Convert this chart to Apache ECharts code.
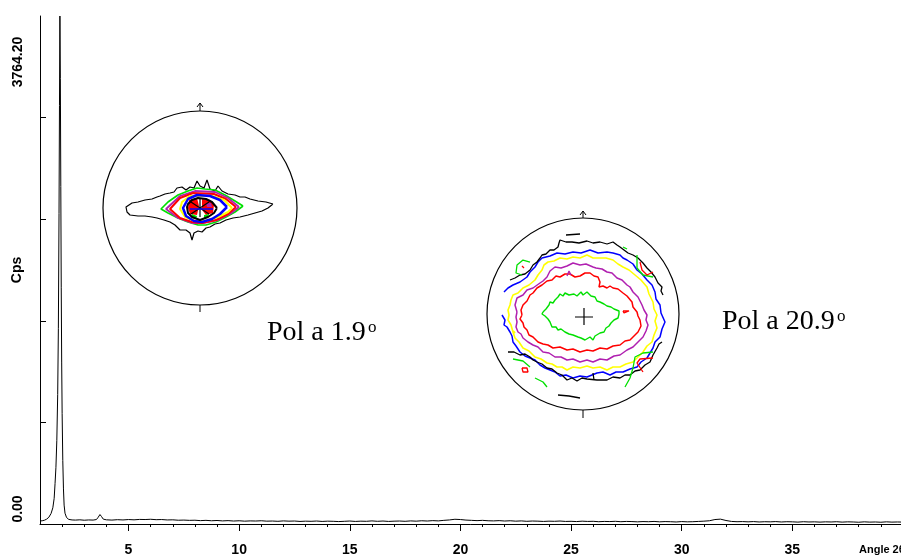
<!DOCTYPE html>
<html><head><meta charset="utf-8">
<script src="https://cdn.jsdelivr.net/npm/echarts@6/dist/echarts.min.js"></script>
<style>html,body{margin:0;padding:0;background:#fff}#c{width:901px;height:557px}</style>
</head><body><div id="c"></div><script>
// ---------- XRD scan (angle 2theta, cps) ----------
const xrdScan = [
[1.00,22],[1.10,24],[1.20,28],[1.30,36],[1.40,50],[1.50,78],[1.58,120],[1.64,190],[1.68,300],[1.72,420],[1.76,620],[1.80,960],[1.83,1450],[1.86,2300],[1.88,3100],[1.90,3764.2],[1.92,3300],[1.94,2500],[1.96,1750],[1.98,1200],[2.00,820],[2.03,470],[2.06,260],[2.09,140],[2.13,80],[2.20,48],[2.30,34],[2.45,30],[2.60,29],[2.80,31],[3.00,28],[3.20,30],[3.40,29],[3.55,33],[3.63,50],[3.71,70],[3.78,55],[3.86,36],[3.95,29],
[4.00,31],[4.25,29],[4.50,32],[4.75,30],[5.00,33],[5.25,31],[5.50,34],[5.75,33],[6.00,35],[6.25,32],[6.50,33],[6.75,30],[7.00,31],[7.25,28],[7.50,29],[7.75,27],[8.00,28],[8.25,25],[8.50,27],[8.75,24],[9.00,26],[9.25,23],[9.50,25],[9.75,22],[10.00,24],[10.25,21],[10.50,23],[10.75,22],[11.00,24],[11.25,21],[11.50,22],[11.75,20],[12.00,23],[12.25,21],[12.50,22],[12.75,19],[13.00,21],[13.25,20],[13.50,22],[13.75,19],[14.00,21],[14.25,20],[14.50,18],[14.75,20],[15.00,22],[15.25,19],[15.50,21],[15.75,20],[16.00,23],[16.25,20],[16.50,22],[16.75,19],[17.00,21],[17.25,22],[17.50,20],[17.75,23],[18.00,21],[18.25,24],[18.50,22],[18.75,25],[19.00,23],[19.25,27],[19.50,30],[19.75,35],[20.00,33],[20.25,29],[20.50,27],[20.75,25],[21.00,27],[21.25,24],[21.50,23],[21.75,25],[22.00,22],[22.25,24],[22.50,21],[22.75,23],[23.00,20],[23.25,22],[23.50,21],[23.75,19],[24.00,21],[24.25,20],[24.50,22],[24.75,19],[25.00,20],[25.25,18],[25.50,21],[25.75,19],[26.00,20],[26.25,17],[26.50,19],[26.75,18],[27.00,20],[27.25,17],[27.50,19],[27.75,18],[28.00,16],[28.25,18],[28.50,17],[28.75,19],[29.00,16],[29.25,18],[29.50,17],[29.75,15],[30.00,18],[30.25,16],[30.50,17],[30.75,19],[31.00,21],[31.25,24],[31.50,33],[31.75,36],[32.00,26],[32.25,19],[32.50,17],[32.75,18],[33.00,16],[33.25,18],[33.50,15],[33.75,17],[34.00,16],[34.25,18],[34.50,15],[34.75,17],[35.00,16],[35.25,14],[35.50,17],[35.75,15],[36.00,16],[36.25,14],[36.50,16],[36.75,15],[37.00,17],[37.25,14],[37.50,16],[37.75,15],[38.00,13],[38.25,16],[38.50,14],[38.75,15],[39.00,13],[39.25,16],[39.50,14],[39.75,15],[40.00,14]
];
const xMin = 1, xMax = 40;
const yMax = 3764.20;
const xMajorTicks = [5,10,15,20,25,30,35];
const xMinorTicks = [2,3,4,6,7,8,9,11,12,13,14,16,17,18,19,21,22,23,24,26,27,28,29,31,32,33,34,36,37,38,39];
const yTickValues = [752.84,1505.68,2258.52,3011.36];
const yTickLabels = ['0.00','3764.20'];
const xAxisTitle = 'Angle 2θ';
const yAxisTitle = 'Cps';
const poleLabels = ['Pol a 1.9','Pol a 20.9'];

// ---------- Pole figure 1 (2θ = 1.9°), offsets from centre, in px of radius 97 ----------
const p1Black = [[73,4],[66,6],[58,7],[50,9],[45,11],[40,11],[35,13],[28,14],[22,17],[18,22],[15,17],[10,19],[7,28],[4,20],[0,22],[-3,27],[-6,20],[-10,21],[-14,18],[-18,21],[-23,20],[-26,16],[-30,15],[-35,14],[-40,12],[-43,11],[-48,9],[-55,8],[-62,6],[-68,5],[-74,1],[-73,-4],[-70,-7],[-62,-8],[-55,-8],[-48,-9],[-43,-10],[-36,-12],[-30,-14],[-25,-17],[-20,-22],[-14,-22],[-10,-25],[-8,-32],[-6,-25],[-2,-23],[2,-24],[6,-20],[10,-19],[15,-16],[20,-15],[26,-12],[33,-10],[40,-9],[48,-7],[55,-5],[62,-3],[68,0]];
const p1Green = [[43,2],[35,7],[25,13],[15,18],[5,19],[-3,20],[-12,17],[-22,13],[-32,6],[-39,-1],[-32,-5],[-22,-10],[-12,-14],[-2,-17],[6,-17],[16,-14],[26,-9],[35,-4]];
const p1Magenta = [[39,1],[28,10],[15,16],[-5,17],[-20,12],[-34,-1],[-22,-10],[-8,-15],[3,-15],[18,-12],[30,-6]];
const p1Red = [[36,1],[26,9],[14,14],[-7,15],[-20,10],[-30,-1],[-20,-10],[-8,-14],[2,-15],[16,-12],[28,-6]];
const p1Yellow = [[32,0],[24,8],[12,12],[-10,12],[-18,6],[-20,-1],[-15,-9],[-5,-13],[5,-13],[18,-9],[28,-4]];
const p1Blue = [[27,1],[20,8],[10,12],[-3,13],[-12,9],[-17,0],[-14,-8],[-6,-13],[2,-14],[12,-11],[20,-6]];
const p1Inner = [[17,0],[12,6],[6,9],[-2,10],[-8,8],[-12,4],[-13,1],[-12,-5],[-8,-9],[0,-12],[8,-9],[14,-5]];
const p1RedFillL = [[-11,8],[-3,10],[-1,2],[-3,-7],[-10,-6],[-12,0]];
const p1RedFillR = [[2,9],[10,8],[14,3],[13,-5],[6,-7],[2,-2]];
const p1GreenFillA = [[-8,-6],[-3,-8],[-4,-11],[-8,-10]];
const p1GreenFillB = [[4,-7],[9,-6],[8,-10],[4,-10]];
const p1MagFill = [[6,5],[11,5],[12,1],[7,1]];
const p1CrossA = [[-9,6],[9,-6]];
const p1CrossB = [[-9,-6],[9,6]];
const p1CrossC = [[0,9],[0,-9]];
const p1BlueBar = [[-10,-1],[13,-1]];

// ---------- Pole figure 2 (2θ = 20.9°), offsets from centre, in px of radius 96 ----------
const p2Green = [[-40,2],[-37,5],[-36,7],[-34,9],[-33,12],[-30,11],[-28,14],[-27,16],[-25,17],[-23,20],[-20,18],[-18,21],[-16,22],[-14,19],[-12,19],[-9,20],[-6,18],[-4,20],[-2,22],[0,19],[2,19],[4,22],[6,21],[8,18],[10,19],[12,17],[13,16],[14,13],[15,14],[17,12],[19,13],[21,10],[22,11],[24,8],[26,10],[28,7],[29,6],[31,5],[33,4],[36,3],[35,2],[36,0],[34,-2],[35,-4],[33,-4],[31,-6],[29,-8],[28,-9],[27,-10],[26,-12],[25,-13],[23,-14],[22,-16],[21,-18],[20,-19],[17,-19],[15,-21],[12,-22],[10,-26],[7,-23],[5,-24],[2,-26],[0,-27],[-2,-24],[-5,-23],[-7,-24],[-10,-21],[-12,-22],[-14,-20],[-16,-19],[-18,-18],[-20,-19],[-22,-15],[-24,-17],[-25,-16],[-27,-13],[-29,-12],[-31,-13],[-33,-11],[-33,-8],[-34,-7],[-35,-5],[-36,-6],[-37,-3],[-38,-2],[-41,0]];
const p2Red = [[-61,-1],[-62,4],[-60,9],[-56,13],[-53,19],[-50,21],[-46,26],[-44,26],[-41,29],[-36,33],[-31,34],[-27,38],[-23,37],[-18,40],[-13,40],[-8,37],[-3,38],[2,41],[7,41],[11,38],[15,37],[17,32],[16,27],[20,28],[24,26],[27,28],[30,26],[35,25],[40,21],[44,18],[49,12],[50,7],[54,2],[55,-2],[57,-6],[58,-12],[55,-18],[52,-21],[47,-26],[42,-27],[37,-31],[30,-32],[24,-35],[17,-34],[10,-37],[4,-36],[-3,-38],[-10,-35],[-16,-36],[-23,-33],[-30,-34],[-35,-31],[-40,-30],[-45,-28],[-50,-23],[-54,-21],[-56,-16],[-59,-13],[-60,-9],[-63,-5]];
const p2Magenta = [[-66,2],[-68,9],[-66,16],[-60,19],[-56,24],[-50,26],[-43,31],[-40,33],[-36,37],[-33,43],[-28,47],[-22,46],[-16,48],[-10,51],[-3,49],[3,50],[10,47],[13,46],[15,44],[19,45],[24,42],[29,41],[34,36],[39,34],[44,29],[47,27],[50,22],[55,17],[59,9],[61,4],[64,-1],[63,-6],[65,-11],[63,-17],[60,-23],[56,-27],[50,-33],[44,-36],[37,-41],[31,-42],[24,-46],[17,-45],[10,-48],[4,-46],[-3,-48],[-10,-45],[-16,-46],[-22,-43],[-28,-43],[-34,-39],[-40,-38],[-45,-33],[-50,-31],[-55,-28],[-60,-24],[-62,-20],[-65,-18],[-67,-13],[-66,-8],[-67,-3]];
const p2Yellow = [[-73,9],[-72,14],[-70,19],[-65,21],[-60,26],[-54,29],[-48,34],[-45,39],[-41,44],[-39,49],[-35,52],[-29,53],[-23,56],[-16,55],[-10,57],[-3,56],[4,59],[10,56],[17,56],[23,56],[30,54],[35,50],[40,47],[46,44],[52,39],[58,34],[64,27],[66,20],[70,12],[71,5],[74,-1],[72,-7],[74,-14],[71,-21],[69,-28],[64,-32],[60,-38],[55,-43],[50,-48],[43,-50],[37,-53],[30,-53],[24,-56],[17,-53],[10,-54],[4,-52],[-3,-54],[-10,-53],[-16,-56],[-21,-53],[-26,-53],[-31,-50],[-36,-49],[-42,-45],[-48,-43],[-54,-37],[-60,-34],[-64,-28],[-68,-24],[-70,-18],[-72,-11],[-75,-6],[-74,-1],[-75,4]];
const p2Blue = [[-79,22],[-75,26],[-70,29],[-63,32],[-56,37],[-53,42],[-48,47],[-45,52],[-41,56],[-33,58],[-26,61],[-18,60],[-10,62],[-2,61],[7,64],[15,61],[24,62],[30,61],[37,59],[40,56],[44,54],[50,50],[54,44],[59,40],[64,34],[69,29],[72,22],[73,15],[77,9],[78,1],[82,-8],[79,-15],[77,-23],[72,-28],[70,-34],[67,-39],[64,-44],[58,-48],[54,-53],[47,-55],[40,-58],[33,-58],[27,-61],[20,-58],[14,-59],[9,-61],[4,-63],[-3,-62],[-10,-64],[-17,-61],[-23,-62],[-28,-58],[-33,-56],[-38,-54],[-43,-51],[-48,-46],[-53,-44],[-58,-42],[-63,-38],[-67,-32],[-70,-28],[-71,-22],[-73,-18],[-76,-13],[-79,-11],[-78,-6],[-81,-1]];
const p2BlackTop = [[-73,34],[-68,36],[-63,39],[-58,40],[-53,44],[-50,49],[-46,52],[-43,56],[-41,59],[-37,60],[-33,64],[-29,64],[-25,67],[-24,71],[-23,74],[-17,72],[-11,72],[-4,71],[4,73],[10,71],[17,72],[24,70],[30,72],[34,69],[37,67],[41,64],[45,61],[50,59],[55,56],[60,51],[64,46],[68,42],[72,37],[75,31],[79,27],[78,23],[80,19]];
const p2BlackDashTop = [[-17,79],[-3,80]];
const p2BlackBottom = [[-75,-38],[-69,-38],[-63,-41],[-58,-40],[-53,-43],[-50,-46],[-46,-48],[-41,-50],[-36,-54],[-31,-55],[-26,-59],[-21,-61],[-16,-66],[-11,-64],[-6,-67],[-1,-64],[4,-65],[14,-66],[24,-66],[30,-63],[37,-64],[42,-61],[47,-61],[52,-57],[57,-56],[62,-51],[67,-48],[70,-41],[74,-34],[76,-30],[79,-28]];
const p2BlackDashBottom = [[-25,-81],[-14,-82],[-3,-84]];
const p2BlackOval = [[10,-59],[12,-61],[11,-66],[9,-64],[10,-59]];
const p2CornerGreenTL = [[-53,52],[-60,54],[-66,49],[-67,41],[-61,39]];
const p2CornerRedTL = [[-61,48],[-59,48],[-59,46],[-61,46]];
const p2CornerGreenTR = [[54,59],[54,46],[60,39],[70,37]];
const p2CornerRedTR = [[57,52],[59,44],[64,39],[70,42]];
const p2CornerGreenTR2 = [[40,67],[44,65]];
const p2RedOvalR = [[40,3],[46,3],[47,1],[41,1],[40,3]];
const p2CornerRedBR = [[70,-44],[57,-45],[54,-49],[60,-58]];
const p2CornerGreenBR = [[70,-38],[60,-39],[52,-43],[50,-54],[47,-64],[42,-73]];
const p2CornerGreenBL = [[-70,-45],[-60,-47],[-53,-53]];
const p2CornerGreenBL2 = [[-48,-64],[-40,-68],[-36,-73]];
const p2CornerRedBL = [[-61,-54],[-56,-54],[-55,-58],[-60,-58]];
const p2YellowDot = [[-70,-17],[-68,-19]];
const p2MagentaBit = [[-16,38],[-14,43],[-12,39]];
const p2CrossH = [[-8,-3],[10,-3]];
const p2CrossV = [[1,-11],[1,6]];

const closeRing = pts => pts.concat([pts[0]]);

const chart = echarts.init(document.getElementById('c'), null, {renderer:'canvas'});

const GREEN = '#00e000', RED = '#ff0000', MAG = '#b020b0', YEL = '#ffff00', BLUE = '#0000ff', BLK = '#000000';

function contour(g, pts, color, w) {
  return {type:'line', xAxisIndex:g+1, yAxisIndex:g, data:pts, symbol:'none', showSymbol:false,
    lineStyle:{color:color, width:w||1.2}, silent:true, clip:false, animation:false, z:5};
}
function fill(g, pts, color) {
  return {type:'custom', xAxisIndex:g+1, yAxisIndex:g, data:[pts[0]], silent:true, clip:false, animation:false, z:4,
    renderItem:(params, api) => ({type:'polygon', shape:{points: pts.map(p => api.coord(p))}, style:{fill:color}})};
}

const series = [
  {type:'line', xAxisIndex:0, yAxisIndex:0, data:xrdScan, symbol:'none', showSymbol:false,
   lineStyle:{color:'#000', width:1}, silent:true, animation:false, clip:true, z:3},
  // pole 1
  contour(1, closeRing(p1Black), BLK, 1.2),
  contour(1, closeRing(p1Green), GREEN, 1.7),
  contour(1, closeRing(p1Magenta), MAG, 1.8),
  contour(1, closeRing(p1Red), RED, 2),
  contour(1, closeRing(p1Yellow), YEL, 2),
  fill(1, p1RedFillL, RED), fill(1, p1RedFillR, RED),
  fill(1, p1GreenFillA, GREEN), fill(1, p1GreenFillB, GREEN), fill(1, p1MagFill, MAG),
  contour(1, closeRing(p1Blue), BLUE, 2.5),
  contour(1, closeRing(p1Inner), BLK, 2),
  contour(1, p1CrossA, BLK, 1.2), contour(1, p1CrossB, BLK, 1.2), contour(1, p1CrossC, BLK, 1.2),
  contour(1, p1BlueBar, BLUE, 1.6),
  contour(1, [[0,97],[0,105]], BLK, 1), contour(1, [[-3,101],[0,105],[3,101]], BLK, 1),
  contour(1, [[0,-97],[0,-104]], BLK, 1),
  // pole 2
  contour(2, closeRing(p2Green), GREEN, 1.4),
  contour(2, closeRing(p2Red), RED, 1.5),
  contour(2, closeRing(p2Magenta), MAG, 1.5),
  contour(2, closeRing(p2Yellow), YEL, 1.6),
  contour(2, p2Blue, BLUE, 1.5),
  contour(2, p2BlackTop, BLK, 1.3), contour(2, p2BlackDashTop, BLK, 1.3),
  contour(2, p2BlackBottom, BLK, 1.3), contour(2, p2BlackDashBottom, BLK, 1.3),
  contour(2, p2BlackOval, BLK, 1.3),
  contour(2, p2CornerGreenTL, GREEN, 1.3), contour(2, closeRing(p2CornerRedTL), RED, 1.3),
  contour(2, p2CornerGreenTR, GREEN, 1.3), contour(2, p2CornerRedTR, RED, 1.3), contour(2, p2CornerGreenTR2, GREEN, 1.3),
  contour(2, p2RedOvalR, RED, 1.3),
  contour(2, p2CornerRedBR, RED, 1.3), contour(2, p2CornerGreenBR, GREEN, 1.3),
  contour(2, p2CornerGreenBL, GREEN, 1.3), contour(2, p2CornerGreenBL2, GREEN, 1.3),
  contour(2, closeRing(p2CornerRedBL), RED, 1.3),
  contour(2, p2YellowDot, YEL, 2), contour(2, p2MagentaBit, MAG, 1.3),
  contour(2, p2CrossH, BLK, 1.2), contour(2, p2CrossV, BLK, 1.2),
  contour(2, [[0,96],[0,103]], BLK, 1), contour(2, [[-3,99],[0,103],[3,99]], BLK, 1),
  contour(2, [[0,-96],[0,-104]], BLK, 1)
];

const hiddenAxis = (g, r) => ({gridIndex:g, type:'value', min:-r, max:r, show:false});
const ringAngle = (i) => ({polarIndex:i, type:'value', min:0, max:360, startAngle:0, clockwise:false,
  axisLine:{show:true, lineStyle:{color:'#000', width:1.2}}, axisTick:{show:false}, axisLabel:{show:false}, splitLine:{show:false}, silent:true});
const ringRadius = (i) => ({polarIndex:i, type:'value', min:0, max:1, show:false});

const axisFont = '"Liberation Sans", Arial, sans-serif';

chart.setOption({
  animation:false,
  backgroundColor:'#fff',
  grid:[
    {left:40, top:16, width:863, height:508, containLabel:false, outerBoundsMode:'none'},
    {left:103, top:111, width:194, height:194, containLabel:false, outerBoundsMode:'none'},
    {left:487, top:218, width:192, height:192, containLabel:false, outerBoundsMode:'none'}
  ],
  polar:[{center:[200,208], radius:97}, {center:[583,314], radius:96}],
  angleAxis:[ringAngle(0), ringAngle(1)],
  radiusAxis:[ringRadius(0), ringRadius(1)],
  xAxis:[
    {gridIndex:0, type:'value', min:xMin, max:xMax, position:'bottom',
     axisLine:{show:true, onZero:false, lineStyle:{color:'#000', width:1}},
     axisTick:{show:true, length:3, customValues:xMinorTicks, lineStyle:{color:'#000', width:1}},
     axisLabel:{show:true, customValues:xMajorTicks, margin:19, color:'#000', fontSize:14, fontWeight:'bold', fontFamily:axisFont},
     splitLine:{show:false}},
    {gridIndex:0, type:'value', min:xMin, max:xMax, position:'bottom',
     axisLine:{show:false}, axisTick:{show:true, length:7, customValues:xMajorTicks, lineStyle:{color:'#000', width:1}},
     axisLabel:{show:false}, splitLine:{show:false}},
    hiddenAxis(1, 97),
    hiddenAxis(2, 96)
  ],
  yAxis:[
    {gridIndex:0, type:'value', min:0, max:yMax,
     name:yAxisTitle, nameLocation:'middle', nameGap:16, nameRotate:90,
     nameTextStyle:{color:'#000', fontSize:14, fontWeight:'bold', fontFamily:axisFont},
     axisLine:{show:true, lineStyle:{color:'#000', width:1}},
     axisTick:{show:true, inside:true, length:6, customValues:yTickValues, lineStyle:{color:'#000', width:1}},
     axisLabel:{show:false}, splitLine:{show:false}},
    hiddenAxis(1, 97),
    hiddenAxis(2, 96)
  ],
  graphic:[
    {type:'text', x:18, y:509, rotation:Math.PI/2, style:{text:yTickLabels[0], fill:'#000', font:'bold 14px "Liberation Sans", Arial', align:'center', verticalAlign:'middle'}},
    {type:'text', x:18, y:62, rotation:Math.PI/2, style:{text:yTickLabels[1], fill:'#000', font:'bold 14px "Liberation Sans", Arial', align:'center', verticalAlign:'middle'}},
    {type:'text', x:859, y:550, style:{text:xAxisTitle, fill:'#000', font:'bold 11px "Liberation Sans", Arial', align:'left', verticalAlign:'middle'}},
    {type:'text', x:267, y:333, style:{text:poleLabels[0], fill:'#000', font:'28px "Liberation Serif", serif', align:'left', verticalAlign:'middle'}},
    {type:'text', x:368, y:328, style:{text:'o', fill:'#000', font:'17px "Liberation Serif", serif', align:'left', verticalAlign:'middle'}},
    {type:'text', x:722, y:322, style:{text:poleLabels[1], fill:'#000', font:'28px "Liberation Serif", serif', align:'left', verticalAlign:'middle'}},
    {type:'text', x:837, y:317, style:{text:'o', fill:'#000', font:'17px "Liberation Serif", serif', align:'left', verticalAlign:'middle'}}
  ],
  series: series
});
</script></body></html>
